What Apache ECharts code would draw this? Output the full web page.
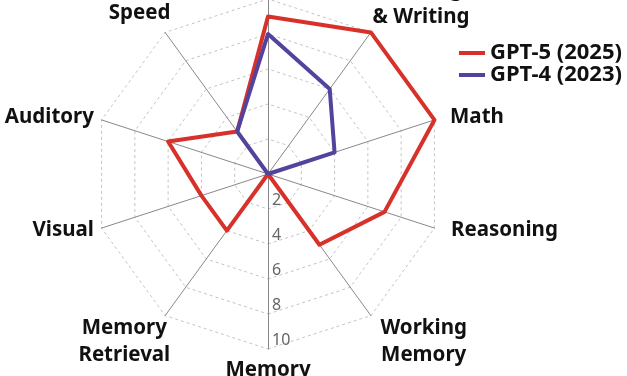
<!DOCTYPE html>
<html>
<head>
<meta charset="utf-8">
<script src="https://cdn.jsdelivr.net/npm/echarts@6/dist/echarts.min.js"></script>
<style>
  html, body { margin: 0; padding: 0; background: #fff; }
  #chart { width: 627px; height: 376px; }
</style>
</head>
<body>
<div id="chart"></div>
<script>
// ejes en sentido antihorario empezando abajo
const ejes = ['Memory', 'Working\nMemory', 'Reasoning', 'Math', 'Reading\n& Writing', 'Knowledge', 'Speed', 'Auditory', 'Visual', 'Memory\nRetrieval'];
const gpt5 = [0, 5, 7, 10, 10, 9, 3, 6, 4, 4];
const gpt4 = [0, 0, 0, 4, 6, 8, 3, 0, 0, 0];
const nombres = ['GPT-5 (2025)', 'GPT-4 (2023)'];

const rojo = '#d7312a';
const morado = '#53439c';
const fuente = '"Noto Sans", sans-serif';

// ajuste fino de la posición de cada nombre (distancia al vértice y desplazamiento horizontal)
const ajusteNombre = {
    'Working\nMemory': { gap: 32, estilo: { align: 'center', verticalAlign: 'middle', padding: [0, 0, 0, 68] } },
    'Memory\nRetrieval': { gap: 32, estilo: { align: 'center', verticalAlign: 'middle', padding: [0, 44, 0, 0] } },
    'Reading\n& Writing': { gap: 36, estilo: { align: 'center', verticalAlign: 'middle', padding: [0, 0, 0, 58] } },
    'Speed': { gap: 24, estilo: { align: 'center', verticalAlign: 'middle', padding: [0, 23, 0, 0] } },
    'Math': { gap: 8, estilo: { align: 'left', padding: [0, 0, 0, 8] } },
    'Reasoning': { gap: 8, estilo: { align: 'left', padding: [0, 0, 0, 9] } }
};

const indicadores = ejes.map((n, i) => {
    const ind = { name: n, min: 0, max: 10 };
    const aj = ajusteNombre[n];
    if (aj) {
        ind.nameGap = aj.gap;
        ind.nameTextStyle = aj.estilo;
    }
    if (i === 0) {
        ind.axisLabel = { show: true, showMinLabel: false, color: '#666', fontSize: 16, lineHeight: 18, fontFamily: fuente, margin: 4, align: 'left', verticalAlign: 'bottom' };
    }
    return ind;
});

const chart = echarts.init(document.getElementById('chart'));
chart.setOption({
    animation: false,
    legend: {
        right: 5, top: 42, orient: 'vertical', padding: 0,
        itemWidth: 26, itemHeight: 4, itemGap: 0,
        icon: 'rect',
        textStyle: { fontFamily: fuente, fontWeight: 'bold', fontSize: 22, lineHeight: 20, color: '#111' },
        data: nombres
    },
    radar: {
        center: [268, 174], radius: 175,
        startAngle: -90,
        splitNumber: 5,
        indicator: indicadores,
        axisName: { color: '#111', fontFamily: fuente, fontWeight: 'bold', fontSize: 20.5, lineHeight: 27 },
        nameGap: 8,
        axisLine: { lineStyle: { color: '#888', width: 1 } },
        splitLine: { lineStyle: { color: '#c4c4c4', type: [3, 3], width: 1 } },
        splitArea: { show: false },
        axisTick: { show: false }
    },
    series: [{
        type: 'radar',
        symbol: 'none',
        z: 3,
        data: [
            { name: nombres[0], value: gpt5, lineStyle: { color: rojo, width: 4 }, itemStyle: { color: rojo } },
            { name: nombres[1], value: gpt4, lineStyle: { color: morado, width: 4 }, itemStyle: { color: morado } }
        ]
    }]
});
</script>
</body>
</html>
